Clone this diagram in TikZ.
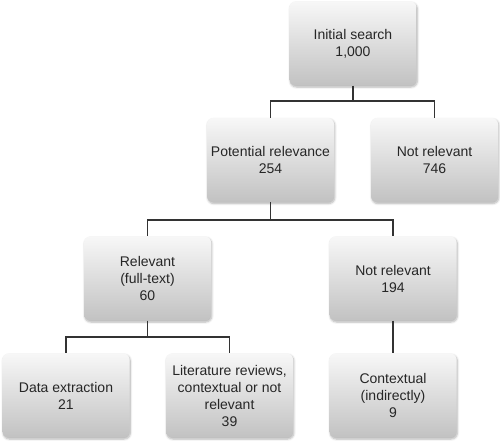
\documentclass[tikz,border=0pt]{standalone}
\usepackage{fontspec}
\setmainfont{Liberation Sans}
\usepackage{tikz}
\usetikzlibrary{shadows.blur}
\colorlet{boxtop}{white!97!black}
\colorlet{boxbottom}{black!24}
\colorlet{linecolor}{black!80}

\begin{document}
\begin{tikzpicture}[x=1pt, y=-1pt,
		stagebox/.style={rounded corners=6pt, top color=boxtop, bottom color=boxbottom,
			minimum width=127pt, minimum height=84pt, inner sep=0pt, align=center,
			text=black!85, font=\fontsize{14}{17}\selectfont,
			blur shadow={shadow xshift=0.8pt, shadow yshift=-1.5pt, shadow opacity=30, shadow blur steps=6}},
		link/.style={draw=linecolor, line width=1.3pt}]
					\useasboundingbox (0,0) rectangle (500,442);
					
					\node[stagebox] (init) at (353,43.5) {Initial search\\1,000};
					
					\node[stagebox] (pot) at (270.5,160) {Potential relevance\\254};
					\node[stagebox] (notrelA) at (434.5,160) {Not relevant\\746};
					
					\node[stagebox] (rel) at (147.5,278.5) {Relevant\\(full-text)\\60};
					\node[stagebox] (notrelB) at (393,278.5) {Not relevant\\194};
					
					\node[stagebox] (data) at (66,395.5) {Data extraction\\21};
					\node[stagebox] (lit) at (229.5,395.5) {Literature reviews,\\contextual or not\\relevant\\39};
					\node[stagebox] (ctx) at (393,395.5) {Contextual\\(indirectly)\\9};
					
					\coordinate (splitA) at (353,101);
					\coordinate (splitB) at (270.5,220);
					\coordinate (splitC) at (147.5,337);
					
					\draw[link] (init) -- (splitA) -| (pot);
					\draw[link] (splitA) -| (notrelA);
					\draw[link] (pot) -- (splitB) -| (rel);
					\draw[link] (splitB) -| (notrelB);
					\draw[link] (rel) -- (splitC) -| (data);
					\draw[link] (splitC) -| (lit);
					\draw[link] (notrelB) -- (ctx);
				\end{tikzpicture}
\end{document}
